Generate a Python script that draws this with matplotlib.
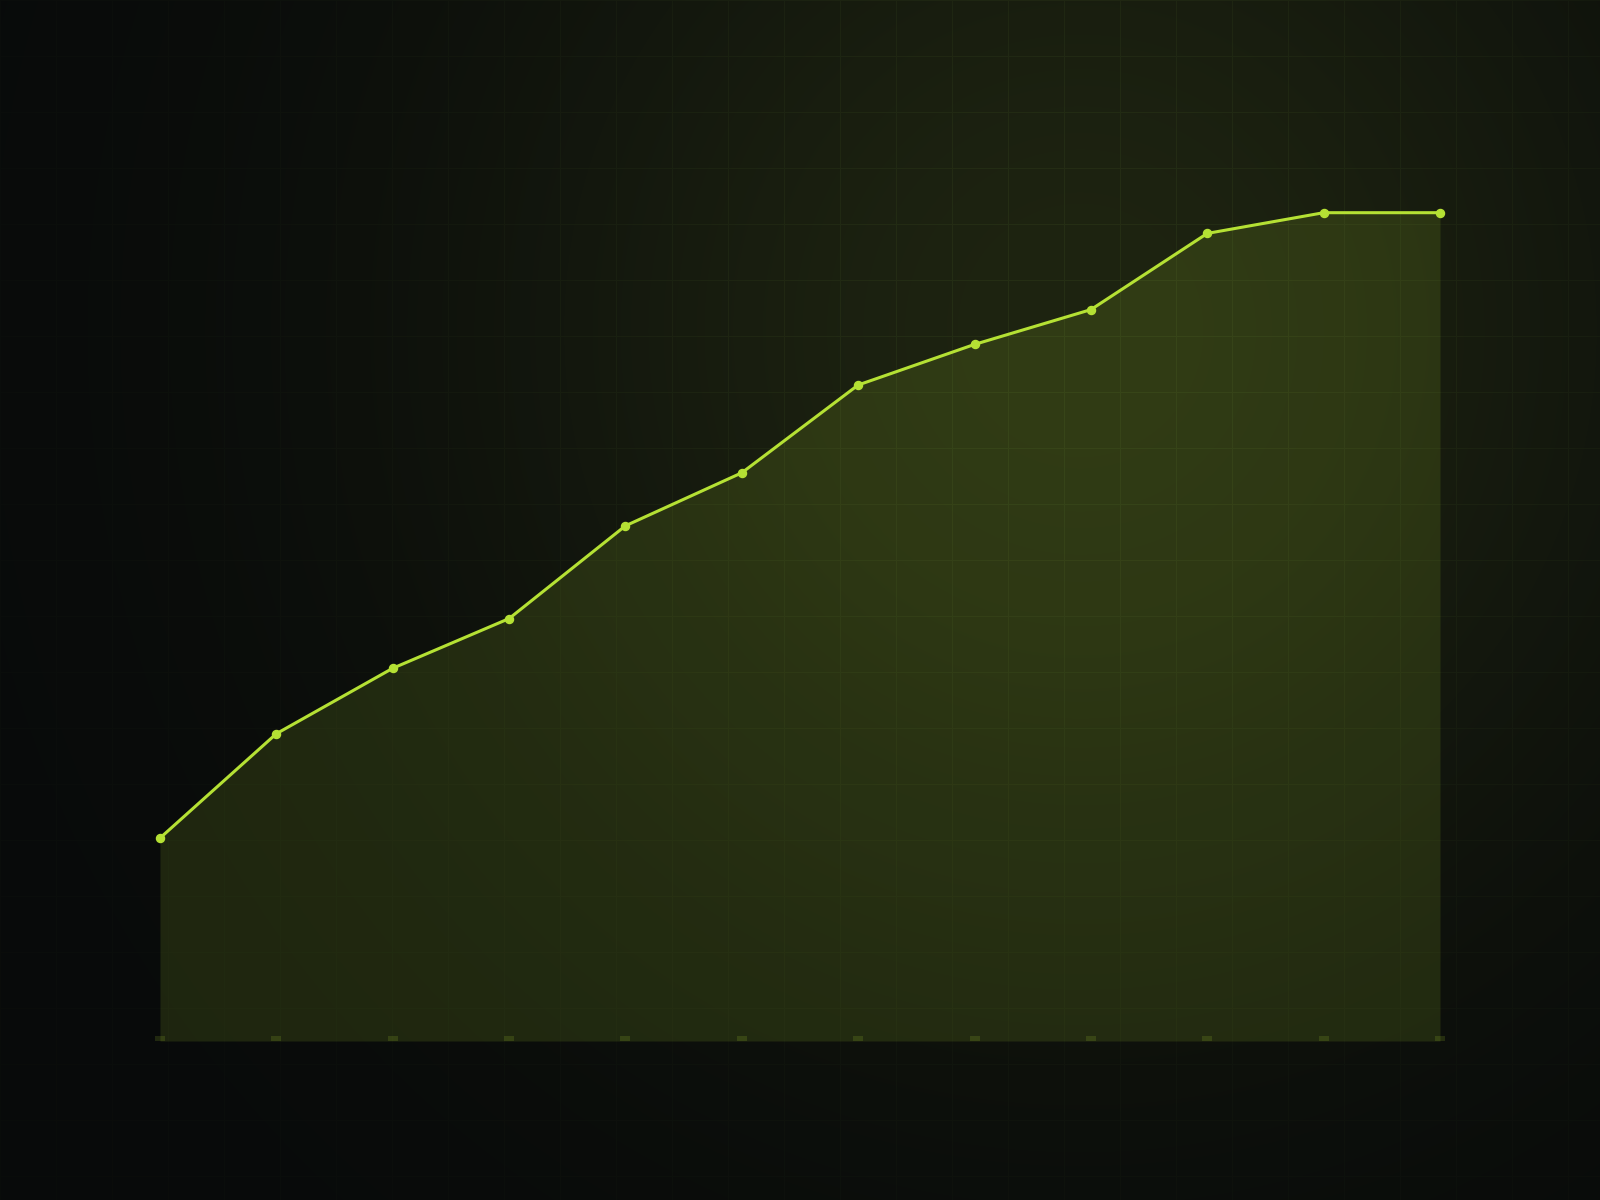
import numpy as np
import matplotlib
matplotlib.use("Agg")
import matplotlib.pyplot as plt

# data (share of the final value, in %)
months = ["Jan", "Feb", "Mar", "Apr", "May", "Jun",
          "Jul", "Aug", "Sep", "Oct", "Nov", "Dec"]
values = [24.5, 37.1, 45.0, 51.0, 62.2, 68.6, 79.2, 84.1, 88.3, 97.5, 100, 100]

LIME = "#b5e134"
W, H = 1600, 1200

# background: dark base with a soft green glow and a faint 56px grid
yy, xx = np.mgrid[0:H, 0:W].astype(float)
glow = np.exp(-(((xx - 1080) / 620) ** 2 + ((yy - 330) / 640) ** 2))
base = np.array([8, 10, 10]) / 255
peak = np.array([30, 36, 17]) / 255
bg = base + glow[..., None] * (peak - base)
grid = ((xx % 56) < 1) | ((yy % 56) < 1)
bg = bg + grid[..., None] * (0.2 + 0.8 * glow[..., None]) * (np.array([8, 11, 4]) / 255)
bg = np.clip(bg, 0, 1)

fig = plt.figure(figsize=(16, 12), dpi=100)
bg_ax = fig.add_axes([0, 0, 1, 1], zorder=-1)
bg_ax.imshow(bg, extent=(0, W, H, 0), aspect="auto", interpolation="nearest")
bg_ax.axis("off")

ax = fig.add_axes([0.1, 1 - 1041 / H, 0.8, (1041 - 212.7) / H])
ax.set_facecolor("none")
x = np.arange(len(months))
ax.fill_between(x, values, 0, color=LIME, alpha=0.13, lw=0)
ax.plot(x, values, color=LIME, lw=2.2, marker="o", ms=5.8, clip_on=False, zorder=3)

ax.set_xlim(0, len(months) - 1)
ax.set_ylim(0, 100)
ax.set_xticks(x)
ax.set_xticklabels(months)
ax.tick_params(axis="x", direction="in", length=3.6, width=7.2,
               color=(0.71, 0.88, 0.2, 0.15), labelbottom=False)
ax.set_yticks([])
for s in ax.spines.values():
    s.set_visible(False)

fig.savefig("out.png", dpi=100)
